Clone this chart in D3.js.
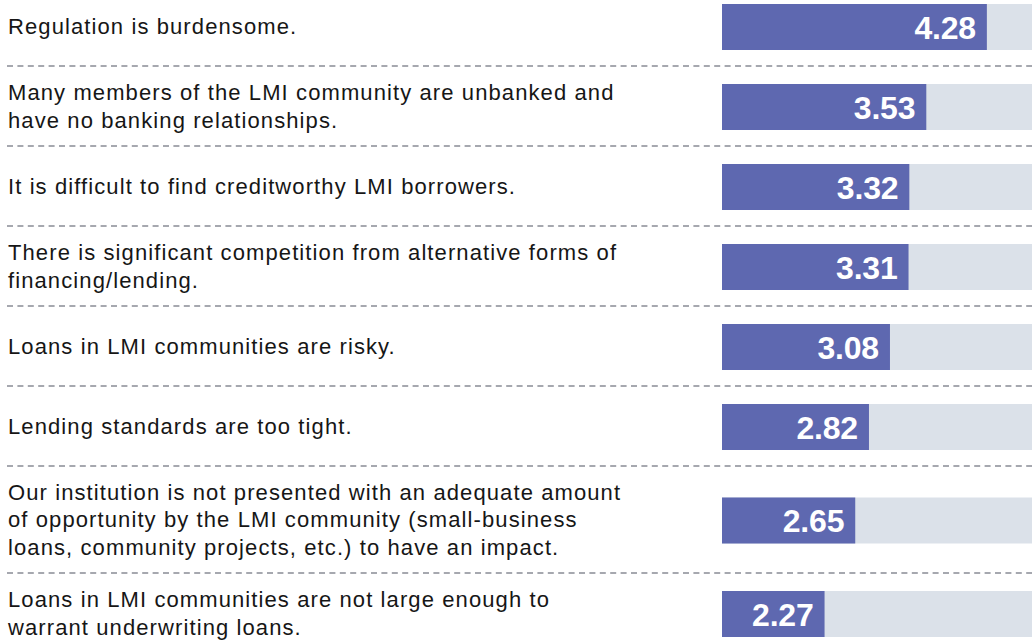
<!DOCTYPE html>
<html>
<head>
<meta charset="utf-8">
<script src="https://cdn.jsdelivr.net/npm/d3@7"></script>
<style>
  html, body { margin: 0; padding: 0; background: #ffffff; }
  svg { display: block; }
</style>
</head>
<body>
<svg id="chart" width="1032" height="644"></svg>
<script>
// ---- data ----
const categories = [
  ["Regulation is burdensome."],
  ["Many members of the LMI community are unbanked and", "have no banking relationships."],
  ["It is difficult to find creditworthy LMI borrowers."],
  ["There is significant competition from alternative forms of", "financing/lending."],
  ["Loans in LMI communities are risky."],
  ["Lending standards are too tight."],
  ["Our institution is not presented with an adequate amount", "of opportunity by the LMI community (small-business", "loans, community projects, etc.) to have an impact."],
  ["Loans in LMI communities are not large enough to", "warrant underwriting loans."]
];
const values = [4.28, 3.53, 3.32, 3.31, 3.08, 2.82, 2.65, 2.27];
const scaleDomain = [1, 5];

// ---- layout ----
const W = 1032, H = 644;
const svg = d3.select("#chart");
const x = d3.scaleLinear().domain(scaleDomain).range([722, 1045]);

const lineH = 27.5;
const rowHeights = categories.map(c => c.length <= 2 ? 80 : 80 + (c.length - 2) * 27);
const rowTops = [];
let acc = -13;
rowHeights.forEach(h => { rowTops.push(acc); acc += h; });
const rows = categories.map((c, i) => ({
  lines: c, value: values[i], top: rowTops[i], h: rowHeights[i],
  center: rowTops[i] + rowHeights[i] / 2
}));

const barH = 46;

const defs = svg.append("defs");
defs.append("clipPath").attr("id", "clip").append("rect")
  .attr("x", 0).attr("y", 0).attr("width", W).attr("height", H);

const g = svg.append("g").attr("clip-path", "url(#clip)");

// separators
g.selectAll("line.sep").data(rows.slice(0, rows.length - 1)).join("line")
  .attr("class", "sep")
  .attr("x1", 7).attr("x2", W)
  .attr("y1", d => d.top + d.h - 1).attr("y2", d => d.top + d.h - 1)
  .attr("stroke", "#a6a8af").attr("stroke-width", 2)
  .attr("stroke-dasharray", "6,4.4");

// background bars
g.selectAll("rect.bg").data(rows).join("rect")
  .attr("class", "bg")
  .attr("x", x(scaleDomain[0]))
  .attr("width", x(scaleDomain[1]) - x(scaleDomain[0]))
  .attr("y", d => d.center - barH / 2).attr("height", barH)
  .attr("fill", "#dbe1e9");

// value bars
g.selectAll("rect.bar").data(rows).join("rect")
  .attr("class", "bar")
  .attr("x", x(scaleDomain[0]))
  .attr("width", d => x(d.value) - x(scaleDomain[0]))
  .attr("y", d => d.center - barH / 2).attr("height", barH)
  .attr("fill", "#5e68b0");

// value labels
g.selectAll("text.val").data(rows).join("text")
  .attr("class", "val")
  .attr("x", d => x(d.value) - 11)
  .attr("y", d => d.center + 11.5)
  .attr("text-anchor", "end")
  .attr("fill", "#ffffff")
  .attr("font-family", "'Liberation Sans', Arial, sans-serif")
  .attr("font-weight", "bold")
  .attr("font-size", 32)
  .attr("letter-spacing", "-0.2px")
  .text(d => d.value.toFixed(2));

// category labels
const lab = g.selectAll("text.cat").data(rows).join("text")
  .attr("class", "cat")
  .attr("fill", "#161616")
  .attr("font-family", "'Liberation Sans', Arial, sans-serif")
  .attr("font-size", 22)
  .attr("letter-spacing", "1.1px");
lab.each(function(d) {
  const n = d.lines.length;
  const first = d.center - (n * lineH) / 2 + 20.5;
  d3.select(this).selectAll("tspan").data(d.lines).join("tspan")
    .attr("x", 8)
    .attr("y", (l, j) => first + j * lineH)
    .text(l => l);
});
</script>
</body>
</html>
